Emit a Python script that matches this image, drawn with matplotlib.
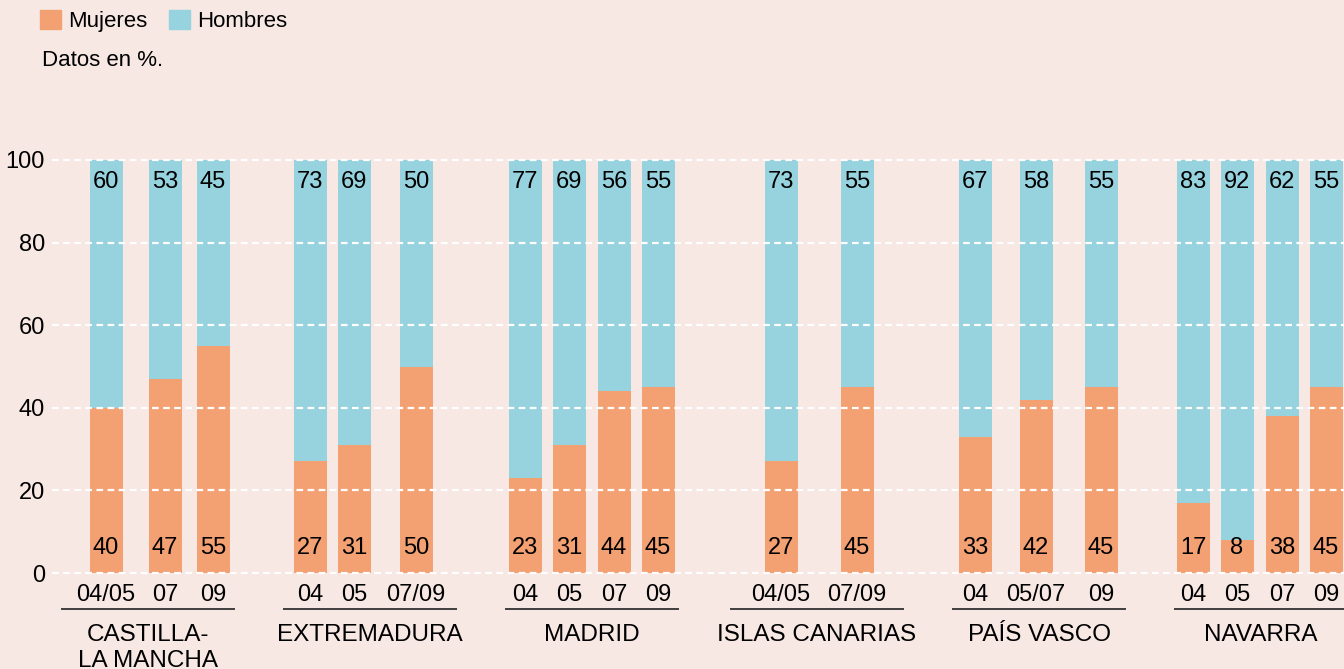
import matplotlib.pyplot as plt
from matplotlib.patches import Patch

plt.rcParams['font.family'] = ['Liberation Sans', 'DejaVu Sans']

# Datos (en %)
regiones = ['CASTILLA-\nLA MANCHA', 'EXTREMADURA', 'MADRID',
            'ISLAS CANARIAS', 'PAÍS VASCO', 'NAVARRA']
periodos = [['04/05', '07', '09'],
            ['04', '05', '07/09'],
            ['04', '05', '07', '09'],
            ['04/05', '07/09'],
            ['04', '05/07', '09'],
            ['04', '05', '07', '09']]
mujeres = [[40, 47, 55],
           [27, 31, 50],
           [23, 31, 44, 45],
           [27, 45],
           [33, 42, 45],
           [17, 8, 38, 45]]
hombres = [[60, 53, 45],
           [73, 69, 50],
           [77, 69, 56, 55],
           [73, 55],
           [67, 58, 55],
           [83, 92, 62, 55]]

# Posiciones de las barras (en px de la figura) y de los rótulos de grupo
pos_barras = [[106, 165, 213],
              [310, 354, 416],
              [525, 569, 614, 658],
              [781, 857],
              [975, 1036, 1101],
              [1193, 1237, 1282, 1326]]
pos_grupo = [148, 370, 592, 817, 1039, 1261]

c_muj = '#F3A173'
c_hom = '#96D3DF'
fondo = '#F7E8E4'

fs_num = 17
fs_grupo = 17.5

fig = plt.figure(figsize=(13.44, 6.69), dpi=100, facecolor=fondo)
ax = fig.add_axes([52 / 1344, 96 / 669, 1 - 52 / 1344, 413 / 669])
ax.set_facecolor(fondo)
ax.set_xlim(52, 1344)
ax.set_ylim(0, 100)

ancho = 33
for g in range(len(regiones)):
    xs = pos_barras[g]
    ax.bar(xs, mujeres[g], width=ancho, color=c_muj, zorder=1)
    ax.bar(xs, hombres[g], bottom=mujeres[g], width=ancho, color=c_hom, zorder=1)
    for x, m, h, p in zip(xs, mujeres[g], hombres[g], periodos[g]):
        ax.text(x, 6, str(m), ha='center', va='center', fontsize=fs_num, zorder=3)
        ax.text(x, 94.7, str(h), ha='center', va='center', fontsize=fs_num, zorder=3)
        ax.text(x, -5.4, p, ha='center', va='center', fontsize=fs_num, clip_on=False)
    cx = pos_grupo[g]
    ax.plot([cx - 87, cx + 87], [-8.8, -8.8], color='#222222', lw=1.2,
            clip_on=False, solid_capstyle='butt')
    ax.text(cx, -12.3, regiones[g], ha='center', va='top', fontsize=fs_grupo,
            linespacing=1.25, clip_on=False)

# Rejilla discontinua blanca por encima de las barras
for yv in range(0, 101, 20):
    ax.axhline(yv, color='white', lw=1.6, ls=(0, (3, 2)), zorder=2, clip_on=False)

ax.set_yticks(range(0, 101, 20))
ax.set_xticks([])
ax.tick_params(axis='y', length=0, labelsize=fs_num, pad=5)
for s in ax.spines.values():
    s.set_visible(False)

handles = [Patch(color=c_muj, label='Mujeres'), Patch(color=c_hom, label='Hombres')]
fig.legend(handles=handles, loc='upper left', bbox_to_anchor=(40 / 1344, 1 - 10 / 669),
           ncol=2, frameon=False, fontsize=16, handlelength=0.95, handleheight=0.95,
           handletextpad=0.3, columnspacing=1.0, borderpad=0, borderaxespad=0)
fig.text(42 / 1344, 1 - 60 / 669, 'Datos en %.', fontsize=16, va='center', ha='left')

fig.savefig('out.png', dpi=100, facecolor=fondo)
